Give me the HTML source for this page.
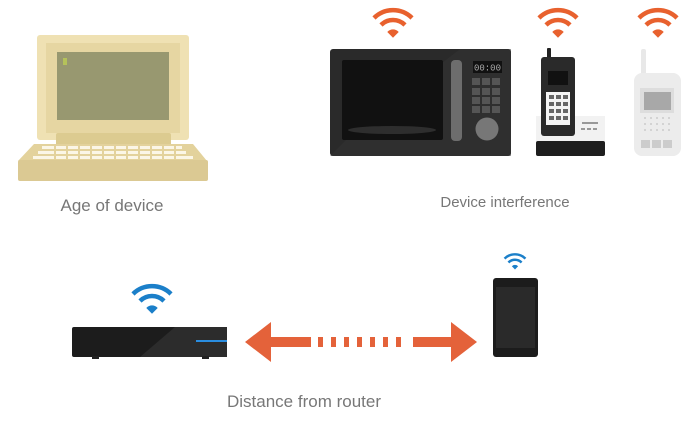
<!DOCTYPE html>
<html><head><meta charset="utf-8"><style>
body{margin:0;background:#fff;width:700px;height:428px;overflow:hidden;font-family:"Liberation Sans",sans-serif}
.t{position:absolute;color:#777;text-align:center;white-space:nowrap}
</style></head><body>
<svg width="700" height="428" style="position:absolute;left:0;top:0">
<defs>
<g id="wf"><path d="M-19,-8 A27,27 0 0 1 19,-8" fill="none" stroke-width="4.5"/><path d="M-12,-1 A17,17 0 0 1 12,-1" fill="none" stroke-width="4.5"/><path d="M-5,6 A7,7 0 0 1 5,6 L0,11Z"/></g>
</defs>
<!-- laptop -->
<rect x="37" y="35" width="152" height="105" rx="3" fill="#efe1b3"/>
<rect x="46" y="43" width="134" height="90" fill="#e6d6a2"/>
<rect x="57" y="52" width="112" height="68" fill="#989870"/>
<rect x="63" y="58" width="4" height="7" fill="#b5c25a"/>
<rect x="56" y="133" width="115" height="13" rx="2" fill="#dccb90"/>
<polygon points="34,144 193,144 207,161 18,161" fill="#e3d29c"/>
<rect x="18" y="160" width="190" height="21" rx="2" fill="#dbc993"/>
<g fill="#fbf6e6">
<rect x="42" y="146" width="140" height="3"/><rect x="38" y="151" width="148" height="3"/><rect x="33" y="156" width="160" height="3"/>
</g>
<g stroke="#e3d29c" stroke-width="2"><path d="M55,145v15M67,145v15M79,145v15M91,145v15M103,145v15M115,145v15M127,145v15M139,145v15M151,145v15M163,145v15M175,145v15"/></g>
<!-- microwave -->
<g fill="#e8612e" stroke="#e8612e"><use href="#wf" x="393" y="26"/><use href="#wf" x="558" y="26"/><use href="#wf" x="658" y="26"/></g>
<rect x="330" y="49" width="181" height="107" rx="3" fill="#2a2a2a"/>
<polygon points="330,156 360,126 460,49 511,49 511,156" fill="#333" opacity=".5"/>
<rect x="342" y="60" width="101" height="80" rx="2" fill="#111"/>
<ellipse cx="392" cy="130" rx="44" ry="4" fill="#2e2e2e"/>
<rect x="451" y="60" width="11" height="81" rx="4" fill="#6d6d6d"/>
<rect x="473" y="61" width="29" height="12" fill="#111"/>
<text x="487.5" y="70.5" font-size="9" fill="#aaa" text-anchor="middle" font-family="Liberation Mono">00:00</text>
<g fill="#555"><rect x="472" y="78" width="8" height="7"/><rect x="482" y="78" width="8" height="7"/><rect x="492" y="78" width="8" height="7"/><rect x="472" y="88" width="8" height="7"/><rect x="482" y="88" width="8" height="7"/><rect x="492" y="88" width="8" height="7"/><rect x="472" y="97" width="8" height="7"/><rect x="482" y="97" width="8" height="7"/><rect x="492" y="97" width="8" height="7"/><rect x="472" y="106" width="8" height="7"/><rect x="482" y="106" width="8" height="7"/><rect x="492" y="106" width="8" height="7"/></g>
<circle cx="487" cy="129" r="11.5" fill="#777"/>
<!-- cordless phone -->
<rect x="536" y="116" width="69" height="28" fill="#f2f2f2"/>
<rect x="536" y="141" width="69" height="15" rx="2" fill="#1e1e1e"/>
<rect x="582" y="122" width="16" height="2" fill="#999"/><rect x="581" y="128" width="4" height="2" fill="#999"/><rect x="587" y="128" width="4" height="2" fill="#999"/><rect x="593" y="128" width="4" height="2" fill="#999"/>
<rect x="547" y="48" width="4" height="12" rx="1" fill="#222"/>
<rect x="541" y="57" width="34" height="79" rx="3" fill="#2a2a2a"/>
<rect x="548" y="71" width="20" height="14" fill="#111"/>
<rect x="546" y="92" width="24" height="33" fill="#f4f4f4"/>
<g fill="#666"><rect x="549" y="95" width="5" height="4"/><rect x="556" y="95" width="5" height="4"/><rect x="563" y="95" width="5" height="4"/><rect x="549" y="102" width="5" height="4"/><rect x="556" y="102" width="5" height="4"/><rect x="563" y="102" width="5" height="4"/><rect x="549" y="109" width="5" height="4"/><rect x="556" y="109" width="5" height="4"/><rect x="563" y="109" width="5" height="4"/><rect x="549" y="116" width="5" height="4"/><rect x="556" y="116" width="5" height="4"/><rect x="563" y="116" width="5" height="4"/></g>
<!-- walkie -->
<rect x="641" y="49" width="5" height="28" rx="2" fill="#e8e8e8"/>
<rect x="634" y="73" width="47" height="83" rx="8" fill="#ececec"/>
<rect x="640" y="88" width="34" height="25" fill="#ddd"/>
<rect x="644" y="92" width="27" height="18" fill="#a8a8a8"/>
<g fill="#ccc"><rect x="641" y="140" width="9" height="8"/><rect x="652" y="140" width="9" height="8"/><rect x="663" y="140" width="9" height="8"/></g>
<g fill="#ccc"><circle cx="645" cy="118" r="1"/><circle cx="651" cy="118" r="1"/><circle cx="657" cy="118" r="1"/><circle cx="663" cy="118" r="1"/><circle cx="669" cy="118" r="1"/><circle cx="645" cy="124" r="1"/><circle cx="651" cy="124" r="1"/><circle cx="657" cy="124" r="1"/><circle cx="663" cy="124" r="1"/><circle cx="669" cy="124" r="1"/><circle cx="645" cy="130" r="1"/><circle cx="651" cy="130" r="1"/><circle cx="657" cy="130" r="1"/><circle cx="663" cy="130" r="1"/><circle cx="669" cy="130" r="1"/></g>
<!-- router -->
<g fill="#1b7fc9" stroke="#1b7fc9"><use href="#wf" x="152" y="302"/></g>
<g fill="#1b7fc9" stroke="#1b7fc9" transform="translate(515,263) scale(.55)"><use href="#wf"/></g>
<rect x="72" y="327" width="155" height="30" rx="2" fill="#1c1c1c"/>
<polygon points="140,357 175,327 227,327 227,357" fill="#2c2c2c"/>
<rect x="196" y="340" width="31" height="2" fill="#2a8de0"/>
<rect x="92" y="356" width="7" height="3" fill="#222"/><rect x="202" y="356" width="7" height="3" fill="#222"/>
<!-- arrow -->
<g fill="#e4623a">
<polygon points="245,342 271,322 271,337 311,337 311,347 271,347 271,362"/>
<polygon points="477,342 451,322 451,337 413,337 413,347 451,347 451,362"/>
<rect x="318" y="337" width="5" height="10"/><rect x="331" y="337" width="5" height="10"/><rect x="344" y="337" width="5" height="10"/><rect x="357" y="337" width="5" height="10"/><rect x="370" y="337" width="5" height="10"/><rect x="383" y="337" width="5" height="10"/><rect x="396" y="337" width="5" height="10"/>
</g>
<!-- phone -->
<rect x="493" y="278" width="45" height="79" rx="3" fill="#1c1c1c"/>
<rect x="496" y="287" width="39" height="61" fill="#2a2a2a"/>
</svg>
<div class="t" style="left:12px;top:196px;width:200px;font-size:17px">Age of device</div>
<div class="t" style="left:405px;top:194px;width:200px;font-size:15px">Device interference</div>
<div class="t" style="left:204px;top:392px;width:200px;font-size:17px">Distance from router</div>
</body></html>
